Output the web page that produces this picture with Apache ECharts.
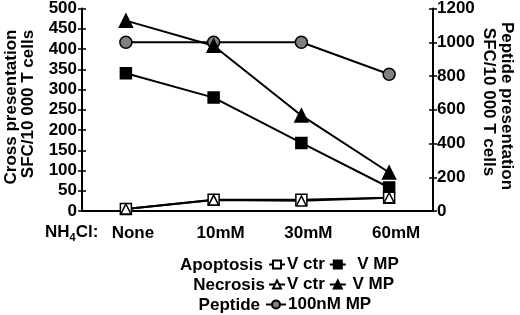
<!DOCTYPE html>
<html>
<head>
<meta charset="utf-8">
<script src="https://cdn.jsdelivr.net/npm/echarts@6/dist/echarts.min.js"></script>
<style>
  html, body { margin: 0; padding: 0; background: #fff; }
  #chart { width: 520px; height: 315px; }
</style>
</head>
<body>
<div id="chart"></div>
<script>
// NH4Cl concentrations
const categories = ['None', '10mM', '30mM', '60mM']

// cross presentation (left axis, SFC/10 000 T cells)
const apoptosisCtr = [5, 28, 28, 33]
const apoptosisMP = [340, 280, 168, 58]
const necrosisCtr = [5, 27, 25, 33]
const necrosisMP = [470, 408, 236, 95]

// peptide presentation (right axis)
const peptideMP = [1000, 1000, 1000, 810]

const FONT = 'Liberation Sans, Arial, sans-serif'
const txt = { fontFamily: FONT, fontWeight: 'bold', fontSize: 17, color: '#000' }
const font = 'bold 17px ' + FONT

const chart = echarts.init(document.getElementById('chart'))

const lineSeries = (name, data, symbol, size, fill, yAxisIndex = 0) => ({
  name,
  type: 'line',
  data,
  yAxisIndex,
  symbol,
  symbolSize: size,
  showSymbol: true,
  lineStyle: { color: '#000', width: 2 },
  itemStyle: { color: fill, borderColor: '#000', borderWidth: 1.5 },
})

// legend rows: series name minus the row prefix ("Apoptosis", "Necrosis", ...)
const legendRow = (names, left, top, width, pad) => ({
  data: names,
  left,
  top,
  orient: 'horizontal',
  padding: 0,
  itemWidth: width,
  itemHeight: 10,
  itemGap: 4,
  textStyle: { ...txt, padding: [0, 0, 0, -3] },
  formatter: (n) => (n === names[1] ? pad : '') + n.split(' ').slice(1).join(' '),
  selectedMode: false,
})

const axisBase = {
  type: 'value',
  splitLine: { show: false },
  axisLine: { show: true, lineStyle: { color: '#000', width: 2 } },
  axisTick: { show: true, length: 4, lineStyle: { color: '#000', width: 1.5 } },
}

// ticks crossing the axis line: a second, label-less axis with inner ticks
const innerTicks = (position, max, interval) => ({
  ...axisBase,
  position,
  min: 0,
  max,
  interval,
  axisLine: { show: false },
  axisTick: { show: true, inside: true, length: 4, lineStyle: { color: '#000', width: 1.5 } },
  axisLabel: { show: false },
})

// rotated axis titles, one element per line
const title = (text, x, y, rotation) => ({
  type: 'text',
  x,
  y,
  rotation,
  style: { text, fill: '#000', font, align: 'center', verticalAlign: 'middle' },
})

chart.setOption({
  animation: false,
  grid: { left: 82, right: 87, top: 7, bottom: 104 },
  xAxis: {
    type: 'category',
    data: categories,
    boundaryGap: true,
    axisLine: { lineStyle: { color: '#000', width: 2 } },
    axisTick: { length: 5, lineStyle: { color: '#000', width: 1.5 } },
    // labels sit a little right of the points, as in the source figure
    axisLabel: { ...txt, margin: 14, padding: [0, 0, 0, 14] },
  },
  yAxis: [
    {
      ...axisBase,
      min: 0,
      max: 500,
      interval: 50,
      axisLabel: { ...txt, margin: 5 },
    },
    {
      ...axisBase,
      min: 0,
      max: 1200,
      interval: 200,
      position: 'right',
      axisLabel: { ...txt, margin: 4, formatter: (v) => String(v) },
    },
    innerTicks('left', 500, 50),
    innerTicks('right', 1200, 200),
  ],
  legend: [
    legendRow(['Apoptosis V ctr', 'Apoptosis V MP'], 268, 256, 16, '  '),
    legendRow(['Necrosis V ctr', 'Necrosis V MP'], 268, 276, 16, ' '),
    legendRow(['Peptide 100nM MP'], 265, 296, 20, ''),
  ],
  graphic: [
    title('Cross presentation', 11, 107, Math.PI / 2),
    title('SFC/10 000 T cells', 28, 104, Math.PI / 2),
    title('SFC/10 000 T cells', 489, 102, -Math.PI / 2),
    title('Peptide presentation', 507, 106, -Math.PI / 2),
    { type: 'text', x: 263, y: 265, style: { text: 'Apoptosis', fill: '#000', font, align: 'right', verticalAlign: 'middle' } },
    { type: 'text', x: 265, y: 285, style: { text: 'Necrosis', fill: '#000', font, align: 'right', verticalAlign: 'middle' } },
    { type: 'text', x: 260, y: 305, style: { text: 'Peptide', fill: '#000', font, align: 'right', verticalAlign: 'middle' } },
    {
      type: 'text',
      left: 45,
      top: 224,
      style: {
        text: '{a|NH}{s|4}{a|Cl:}',
        rich: {
          a: { fontFamily: FONT, fontWeight: 'bold', fontSize: 17, color: '#000' },
          s: { fontFamily: FONT, fontWeight: 'bold', fontSize: 11, color: '#000', padding: [10, 0, 0, 0] },
        },
      },
    },
  ],
  series: [
    lineSeries('Peptide 100nM MP', peptideMP, 'circle', 12, '#808080', 1),
    lineSeries('Apoptosis V MP', apoptosisMP, 'rect', 11, '#000'),
    lineSeries('Necrosis V MP', necrosisMP, 'triangle', 13, '#000'),
    lineSeries('Apoptosis V ctr', apoptosisCtr, 'rect', 11, '#fff'),
    lineSeries('Necrosis V ctr', necrosisCtr, 'triangle', 10, '#fff'),
  ],
})
</script>
</body>
</html>
